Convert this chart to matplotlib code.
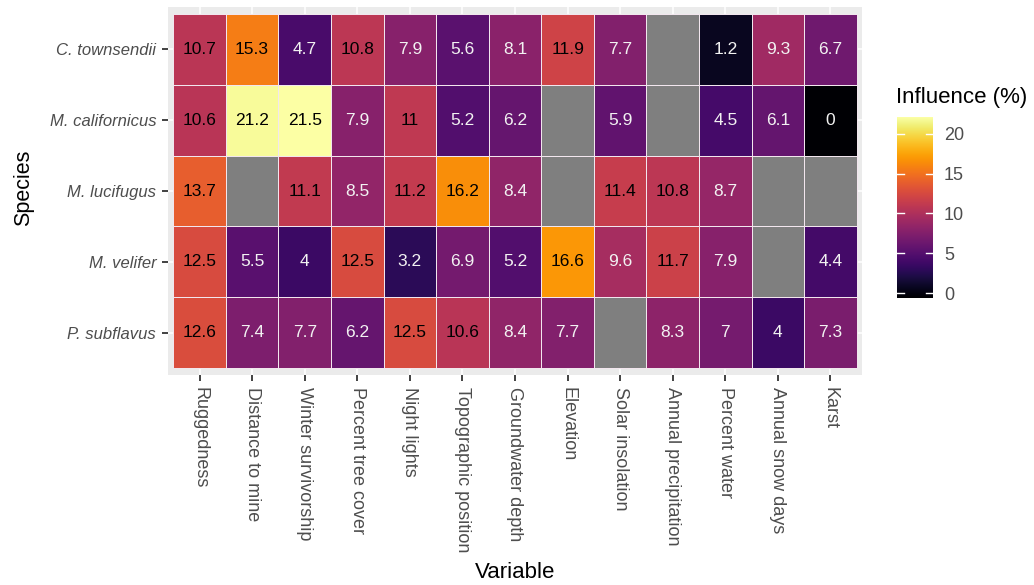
import numpy as np
import matplotlib
matplotlib.use("Agg")
import matplotlib.pyplot as plt
from matplotlib.colors import Normalize

plt.rcParams['font.family'] = ['Liberation Sans', 'DejaVu Sans']

species = ["C. townsendii", "M. californicus", "M. lucifugus", "M. velifer", "P. subflavus"]
variables = ["Ruggedness", "Distance to mine", "Winter survivorship", "Percent tree cover",
             "Night lights", "Topographic position", "Groundwater depth", "Elevation",
             "Solar insolation", "Annual precipitation", "Percent water", "Annual snow days", "Karst"]
nan = np.nan
c_townsendii   = [10.7, 15.3, 4.7, 10.8, 7.9, 5.6, 8.1, 11.9, 7.7, nan, 1.2, 9.3, 6.7]
m_californicus = [10.6, 21.2, 21.5, 7.9, 11, 5.2, 6.2, nan, 5.9, nan, 4.5, 6.1, 0]
m_lucifugus    = [13.7, nan, 11.1, 8.5, 11.2, 16.2, 8.4, nan, 11.4, 10.8, 8.7, nan, nan]
m_velifer      = [12.5, 5.5, 4, 12.5, 3.2, 6.9, 5.2, 16.6, 9.6, 11.7, 7.9, nan, 4.4]
p_subflavus    = [12.6, 7.4, 7.7, 6.2, 12.5, 10.6, 8.4, 7.7, nan, 8.3, 7, 4, 7.3]
cbar_ticks = [0, 5, 10, 15, 20]

data = np.array([c_townsendii, m_californicus, m_lucifugus, m_velifer, p_subflavus], dtype=float)
nrow, ncol = data.shape
vmin, vmax = np.nanmin(data), np.nanmax(data)

W, H = 1034, 585
fig = plt.figure(figsize=(W / 100, H / 100), dpi=100)
ax = fig.add_axes([168 / W, 1 - 375 / H, (862 - 168) / W, (375 - 7) / H])
ax.set_facecolor('#EBEBEB')

cmap = plt.get_cmap('inferno').copy()
cmap.set_bad('#7F7F7F')
norm = Normalize(vmin=vmin, vmax=vmax)

# grid lines (ggplot style, behind tiles)
for i in range(ncol):
    ax.axvline(i, color='white', lw=1.1, zorder=0)
for j in range(nrow):
    ax.axhline(j, color='white', lw=1.1, zorder=0)

ypos = np.arange(nrow)[::-1]
xe = np.arange(ncol + 1) - 0.5
ye = np.arange(nrow + 1) - 0.5
plotdata = np.ma.masked_invalid(data[::-1])
ax.pcolormesh(xe, ye, plotdata, cmap=cmap, norm=norm, edgecolors='#F2E6EE',
              linewidth=0.6, zorder=1)

for r in range(nrow):
    for c in range(ncol):
        v = data[r, c]
        if np.isnan(v):
            continue
        col = 'black' if v > 10 else '#F2F2F2'
        ax.text(c, ypos[r], f"{v:g}", ha='center', va='center', fontsize=12.5,
                color=col, zorder=3)

ax.set_xlim(-0.6, ncol - 0.4)
ax.set_ylim(-0.6, nrow - 0.4)
ax.set_xticks(range(ncol))
ax.set_xticklabels(variables, rotation=-90, fontsize=13, color='#4D4D4D')
ax.set_yticks(ypos)
ax.set_yticklabels(species, fontsize=12, color='#4D4D4D', style='italic')
ax.tick_params(axis='both', length=4.5, width=1.3, color='#333333', pad=4)
for s in ax.spines.values():
    s.set_visible(False)
fig.text(515 / W, 1 - 572 / H, "Variable", fontsize=16, ha='center', va='center')
fig.text(24 / W, 1 - 188 / H, "Species", fontsize=15.5, ha='center', va='center', rotation=90)

# colorbar (ggplot style with nbin=20 offsets)
cax = fig.add_axes([897 / W, 1 - 298 / H, 36 / W, 181 / H])
delta = (vmax - vmin) / 19
grad = np.linspace(vmin, vmax, 256).reshape(-1, 1)
cax.imshow(grad, cmap=cmap, norm=norm, aspect='auto', origin='lower',
           extent=[0, 1, vmin - delta / 2, vmax + delta / 2], interpolation='bilinear')
cax.set_xlim(0, 1)
cax.set_ylim(vmin - delta / 2, vmax + delta / 2)
for t in cbar_ticks:
    cax.plot([0, 0.2], [t, t], color='white', lw=1.0)
    cax.plot([0.8, 1], [t, t], color='white', lw=1.0)
cax.set_xticks([])
cax.yaxis.tick_right()
cax.set_yticks(cbar_ticks)
cax.set_yticklabels([str(t) for t in cbar_ticks], fontsize=13, color='#4D4D4D')
cax.tick_params(axis='y', length=0, pad=8)
for s in cax.spines.values():
    s.set_visible(False)
fig.text(896 / W, 1 - 98 / H, "Influence (%)", fontsize=16, ha='left', va='center')

fig.savefig("out.png", dpi=100)
